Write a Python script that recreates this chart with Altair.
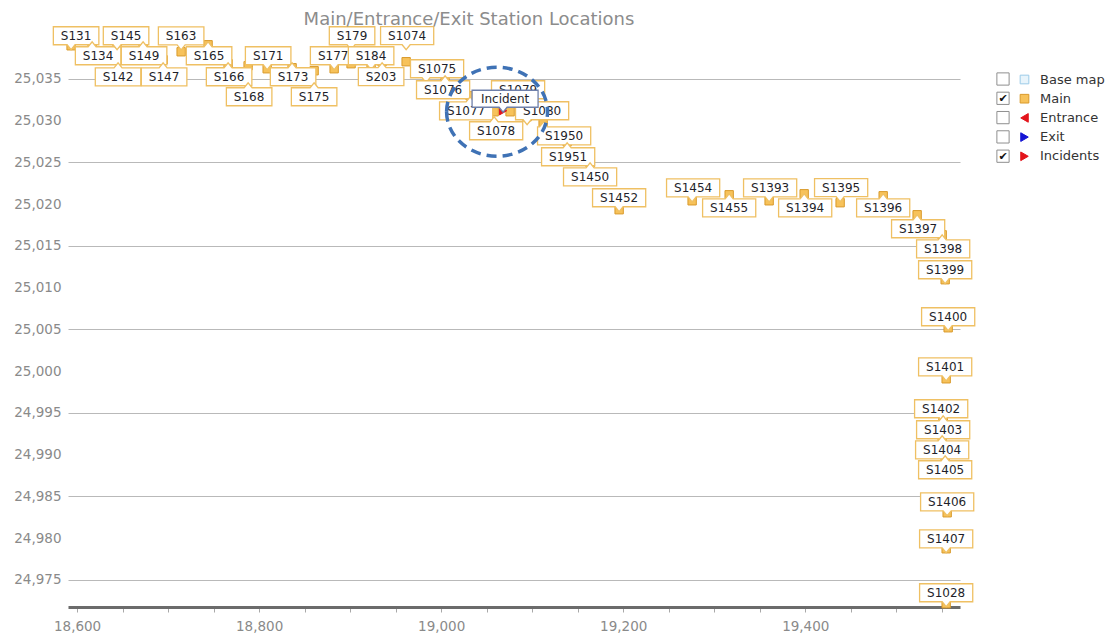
import altair as alt
import pandas as pd

# ---------------- data ----------------
title_text = "Main/Entrance/Exit Station Locations"

station_ids = ["S131", "S134", "S145", "S142", "S149", "S147", "S163", "S165", "S166", "S168",
               "S171", "S173", "S175", "S177", "S179", "S184", "S203", "S1074", "S1075", "S1076",
               "S1077", "S1078", "S1079", "S1080", "S1950", "S1951", "S1450", "S1452", "S1454", "S1455",
               "S1393", "S1394", "S1395", "S1396", "S1397", "S1398", "S1399", "S1400", "S1401", "S1402",
               "S1403", "S1404", "S1405", "S1406", "S1407", "S1028"]
station_x = [18593.4, 18616.5, 18643.9, 18645.0, 18672.5, 18694.5, 18714.3, 18743.9, 18765.9, 18787.9,
             18808.8, 18836.2, 18860.4, 18882.4, 18901.0, 18923.0, 18935.1, 18961.5, 18983.4, 19004.3,
             19031.8, 19058.2, 19075.7, 19094.4, 19112.0, 19138.4, 19163.6, 19195.5, 19275.7, 19316.4,
             19360.3, 19398.8, 19438.3, 19485.6, 19522.9, 19550.4, 19553.7, 19557.0, 19554.8, 19551.5,
             19551.5, 19550.4, 19553.7, 19555.9, 19554.8, 19554.8]
station_y = [25038.95, 25039.07, 25039.07, 25037.27, 25039.07, 25037.27, 25038.23, 25039.07, 25036.80, 25036.56,
             25036.20, 25036.32, 25035.96, 25036.20, 25036.80, 25036.32, 25037.04, 25037.04, 25035.96, 25034.88,
             25032.96, 25031.05, 25031.05, 25030.45, 25029.61, 25027.46, 25024.94, 25019.32, 25020.39, 25021.11,
             25020.39, 25021.23, 25020.16, 25020.99, 25018.72, 25016.32, 25010.94, 25005.19, 24999.08, 24994.30,
             24994.06, 24991.78, 24989.39, 24983.04, 24978.73, 24972.15]

incident_name = "Incident"
incident_x = 19068.0
incident_y = 25031.17

legend_kinds = ["Base map", "Main", "Entrance", "Exit", "Incidents"]
legend_checked = [False, True, False, False, True]

x_ticks = list(range(18600, 19551, 50))
y_ticks = list(range(24975, 25036, 5))

# ---------------- layout (label callout placement, pixels) ----------------
label_dx = [5, 6, 9, 0, 1, 1, 0, 1, 1, 1,
            1, 1, 0, -1, 1, 0, -1, 1, 11, -2,
            -4, 2, 8, 15, 21, 1, 0, 0, 1, 0,
            1, 1, 1, 0, 1, 1, 0, 0, -1, -2,
            0, 0, 0, 0, 0, 0]
label_dy = [-10, 11, -9, 17, 11, 17, -16, 11, 13, 31,
            -13, 9, 26, -13, -28, -12, 15, -26, -2, 10,
            15, 19, -22, -6, 12, 15, 14, -12, -13, 13,
            -13, 14, -15, 12, 14, 14, -10, -11, -12, -10,
            9, 10, 10, -11, -10, -11]
incident_dx, incident_dy = 2, -12

X_DOM = [18590, 19570]
Y_DOM = [24971.76, 25040.0]
W, H = 892, 570
KX = (X_DOM[1] - X_DOM[0]) / W
KY = (Y_DOM[1] - Y_DOM[0]) / H

FONT = "DejaVu Sans"
BOX_STROKE = "#efc063"


def callout_path(w, h, dx, dy):
    hw, hh = w / 2.0, h / 2.0
    px = max(-hw + 6, min(hw - 6, -dx))
    t, b = 5, 4
    if dy < 0:  # label above marker -> pointer at bottom
        return (f"M{-hw},{-hh}L{hw},{-hh}L{hw},{hh}L{px + b},{hh}L{px},{hh + t}"
                f"L{px - b},{hh}L{-hw},{hh}Z")
    return (f"M{-hw},{hh}L{-hw},{-hh}L{px - b},{-hh}L{px},{-hh - t}L{px + b},{-hh}"
            f"L{hw},{-hh}L{hw},{hh}Z")


rows = []
for name, x, y, dx, dy in zip(station_ids, station_x, station_y, label_dx, label_dy):
    w = len(name) * 7.63 + 15
    rows.append(dict(label=name, x=x, y=y, kind="Main",
                     lx=x + dx * KX, ly=y - dy * KY, path=callout_path(w, 18, dx, dy)))
rows.append(dict(label=incident_name, x=incident_x, y=incident_y, kind="Incidents",
                 lx=incident_x + incident_dx * KX, ly=incident_y - incident_dy * KY,
                 path=callout_path(66, 17, incident_dx, incident_dy)))
df = pd.DataFrame(rows)

x_axis = alt.Axis(values=x_ticks, title=None, grid=False,
                  labelExpr="datum.value % 200 == 0 ? format(datum.value, ',') : ''",
                  domainColor="#6b6b6b", domainWidth=3, tickColor="#a8a8a8", tickSize=5,
                  labelColor="#8a8a8a", labelFont=FONT, labelFontSize=13.5, labelPadding=7,
                  labelFlush=False, labelOverlap=False)
y_axis = alt.Axis(values=y_ticks, format=",", title=None, ticks=False, domain=False, grid=True,
                  gridColor={"condition": {"test": "datum.value % 10 == 5", "value": "#b9b9b9"},
                             "value": "transparent"},
                  labelColor="#8a8a8a", labelFont=FONT, labelFontSize=13.5, labelPadding=7)


def X(f):
    return alt.X(f"{f}:Q", scale=alt.Scale(domain=X_DOM, nice=False, zero=False), axis=x_axis)


def Y(f):
    return alt.Y(f"{f}:Q", scale=alt.Scale(domain=Y_DOM, nice=False, zero=False), axis=y_axis)


legend = alt.Legend(title=None, orient="none", legendX=950, legendY=36, padding=0,
                    labelFont=FONT, labelFontSize=13, labelColor="#333333",
                    symbolSize=75, symbolStrokeWidth=1, labelOffset=9, rowPadding=5.2)

base = alt.Chart(df)

markers = base.mark_point(filled=True, size=70, opacity=1, strokeWidth=1).encode(
    x=X("x"), y=Y("y"),
    fill=alt.Fill("kind:N", scale=alt.Scale(domain=legend_kinds,
                  range=["#e8f4fb", "#f7c25a", "#e3141b", "#1414d4", "#e3141b"]), legend=legend),
    stroke=alt.Stroke("kind:N", scale=alt.Scale(domain=legend_kinds,
                      range=["#9ccbe8", "#d99a2b", "#e3141b", "#1414d4", "#e3141b"]), legend=legend),
    shape=alt.Shape("kind:N", scale=alt.Scale(domain=legend_kinds,
                    range=["square", "square", "triangle-left", "triangle-right", "triangle-right"]),
                    legend=legend),
)

layers = [markers]
for r in rows:
    is_inc = r["label"] == incident_name
    sub = base.transform_filter(alt.datum.label == r["label"])
    box = sub.mark_point(shape=r["path"], size=4, filled=True, fill="white",
                         stroke="#6f80aa" if is_inc else BOX_STROKE,
                         strokeWidth=1.3, opacity=1).encode(x=X("lx"), y=Y("ly"))
    txt = sub.mark_text(font=FONT, fontSize=12, color="#1f1f2a", align="center",
                        baseline="middle").encode(x=X("lx"), y=Y("ly"), text="label:N")
    layers += [box, txt]

ellipse = base.transform_filter(alt.datum.label == incident_name).mark_point(
    shape="M-1,0A1,0.88 0 1,0 1,0A1,0.88 0 1,0 -1,0Z", size=10201, filled=False,
    stroke="#3f72b5", strokeWidth=3.5, strokeDash=[10, 6], opacity=1, xOffset=-6, yOffset=1
).encode(x=X("x"), y=Y("y"))
layers.append(ellipse)

# legend check boxes
one = pd.DataFrame({"k": [0]})
for i, (kind, chk) in enumerate(zip(legend_kinds, legend_checked)):
    ypos = 42 + i * 19.3
    layers.append(alt.Chart(one).mark_square(size=150, fill="white", stroke="#8f8f8f",
                                             strokeWidth=1, opacity=1)
                  .encode(x=alt.value(935), y=alt.value(ypos)))
    if chk:
        layers.append(alt.Chart(one).mark_text(text="✔", fontSize=11, color="#111111",
                                               font=FONT, align="center", baseline="middle")
                      .encode(x=alt.value(935), y=alt.value(ypos + 1)))

chart = alt.layer(*layers).properties(
    width=W, height=H,
    title=alt.TitleParams(title_text, font=FONT, fontSize=18, fontWeight="normal",
                          color="#8c8c8c", anchor="middle", dx=-45, offset=-5),
    autosize=alt.AutoSizeParams(type="none"),
    padding={"left": 60, "top": 29, "right": 147, "bottom": 30},
).configure_view(stroke=None)

chart.save("out.html", embed_options={"renderer": "svg", "actions": False})
